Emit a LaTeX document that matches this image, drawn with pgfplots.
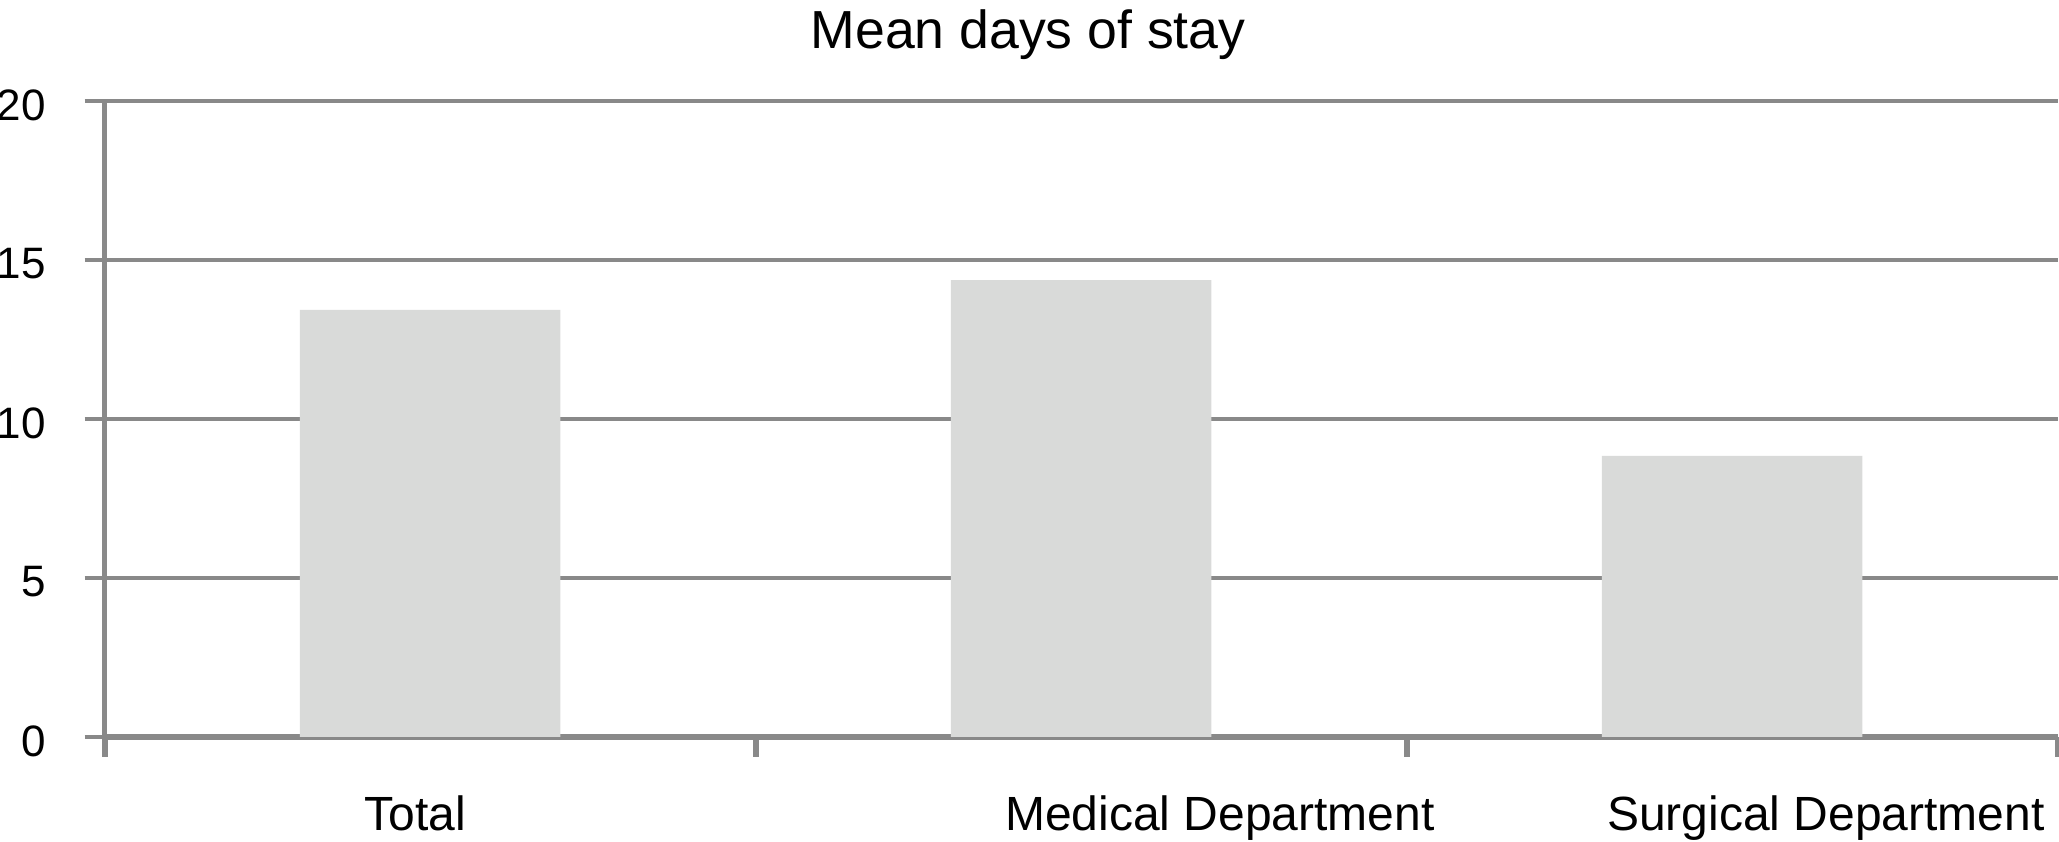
\documentclass[border=0pt]{standalone}
\usepackage{fontspec}
\setmainfont{Liberation Sans}
\usepackage{pgfplots}
\pgfplotsset{compat=1.18}
\definecolor{gridgray}{HTML}{898989}
\definecolor{barfill}{HTML}{D9DAD9}
\begin{document}
\begin{tikzpicture}
\begin{axis}[
  scale only axis,
  width=488.25pt, height=159pt,
  xmin=-0.5, xmax=2.5, ymin=0, ymax=20,
  axis x line=bottom, axis y line=left,
  axis line style={draw=gridgray, line width=1.3pt, -},
  ytick={0,5,10,15,20},
  ymajorgrids,
  grid style={draw=gridgray, line width=0.85pt},
  tick align=outside,
  major tick length=5pt,
  tick style={draw=gridgray, line width=0.85pt},
  xtick={-0.5,0.5,1.5,2.5},
  xticklabels={},
  x tick style={draw=gridgray, line width=1.5pt},
  extra x ticks={-0.0226,1.2132,2.144},
  extra x tick labels={Total,Medical Department,Surgical Department},
  extra x tick style={major tick length=0pt, grid=none,
    tick label style={anchor=base, yshift=-23.4pt, inner sep=0pt,
      font=\fontsize{12}{14}\selectfont}},
  /pgf/number format/assume math mode=true,
  yticklabel style={anchor=east, font=\fontsize{11}{13}\selectfont, yshift=-1pt, xshift=-6.25pt},
  title={Mean days of stay},
  title style={at={(0.4728,1)}, anchor=base, yshift=7.15pt, inner sep=0pt,
    font=\fontsize{13.4}{16}\selectfont},
]
\addplot[ybar, bar width=0.4, fill=barfill, draw=none]
  coordinates {(0,13.43) (1,14.37) (2,8.84)};
\coordinate (ll) at (rel axis cs:0,0);
\end{axis}
\pgfresetboundingbox
\path[use as bounding box] ([xshift=-26.175pt,yshift=-26.25pt]ll) rectangle ++(514.75pt,210.5pt);
\end{tikzpicture}
\end{document}
